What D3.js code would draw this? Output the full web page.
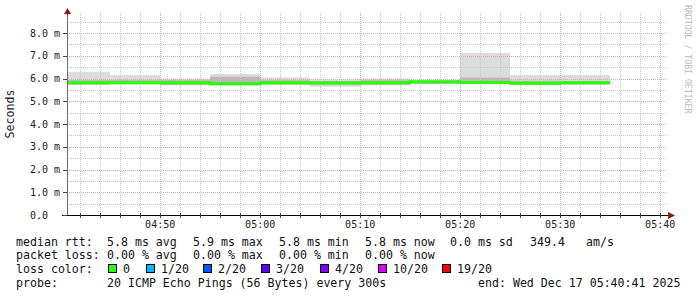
<!DOCTYPE html>
<html>
<head>
<meta charset="utf-8">
<script src="https://cdn.jsdelivr.net/npm/d3@7"></script>
<style>
  body { margin: 0; background: #fff; }
  text { font-family: "DejaVu Sans Mono", monospace; }
</style>
</head>
<body>
<div id="vis-holder"></div>
<script>
// chart size and plot box
const width = 697;
const height = 297;
const plot = { left: 67, right: 667, top: 13, bottom: 215 };

// time window of the graph
const startTime = new Date(Date.UTC(2025, 11, 17, 4, 40, 41));
const endTime = new Date(Date.UTC(2025, 11, 17, 5, 40, 41));

// end of each 300s step
const stepEnds = ["04:45", "04:50", "04:55", "05:00", "05:05", "05:10", "05:15", "05:20", "05:25", "05:30", "05:35"];

// rtt values per step, in ms
const smokeMax = [6.29, 6.15, 6.00, 6.20, 6.05, 5.96, 6.01, 5.93, 7.12, 6.15, 6.15];
const smokeHi  = [5.93, 5.93, 5.93, 6.08, 5.93, 5.89, 5.93, 5.90, 6.04, 5.90, 5.89];
const medians  = [5.815, 5.815, 5.81, 5.77, 5.815, 5.80, 5.815, 5.86, 5.83, 5.79, 5.815];
const smokeLo  = [5.74, 5.76, 5.72, 5.72, 5.74, 5.72, 5.73, 5.77, 5.76, 5.73, 5.75];
const smokeMin = [5.71, 5.74, 5.70, 5.70, 5.71, 5.64, 5.70, 5.76, 5.74, 5.71, 5.72];
const lossPerStep = [0, 0, 0, 0, 0, 0, 0, 0, 0, 0, 0];

// y axis ticks
const yMajor = [1, 2, 3, 4, 5, 6, 7, 8];
const yLabels = [0, 1, 2, 3, 4, 5, 6, 7, 8];

// legend rows
const rttLegend = ["5.8 ms avg", "5.9 ms max", "5.8 ms min", "5.8 ms now", "0.0 ms sd", "349.4", "am/s"];
const rttLegendX = [107, 193, 279, 365, 450, 530, 586];
const lossLegend = ["0.00 % avg", "0.00 % max", "0.00 % min", "0.00 % now"];
const lossNames = ["0", "1/20", "2/20", "3/20", "4/20", "10/20", "19/20"];
const lossColors = ["#26ff00", "#00b8ff", "#0059ff", "#5e00ff", "#7e00ff", "#dd00ff", "#ff0000"];
const lossBoxX = [108, 146, 203, 261, 320, 378, 442];
const probeText = "20 ICMP Echo Pings (56 Bytes) every 300s";
const endText = "end: Wed Dec 17 05:40:41 2025";

const steps = stepEnds.map((s, i) => {
  const [h, m] = s.split(":").map(Number);
  const end = new Date(Date.UTC(2025, 11, 17, h, m, 0));
  const start = i === 0 ? startTime : new Date(end.getTime() - 300000);
  return { start, end, max: smokeMax[i], hi: smokeHi[i], med: medians[i], lo: smokeLo[i], min: smokeMin[i], loss: lossPerStep[i] };
});

const svg = d3.select("#vis-holder")
              .append("svg")
              .attr("width", width)
              .attr("height", height);

// scales
const x = d3.scaleTime()
            .domain([startTime, endTime])
            .range([plot.left, plot.right]);

const y = d3.scaleLinear()
            .domain([0, 8.88])
            .range([plot.bottom, plot.top]);

// smoke: outer band then inner band
svg.append("g")
   .selectAll("rect")
   .data(steps)
   .enter()
   .append("rect")
     .attr("x", (d) => x(d.start))
     .attr("width", (d) => x(d.end) - x(d.start))
     .attr("y", (d) => y(d.max))
     .attr("height", (d) => y(d.min) - y(d.max))
     .style("fill", "#dcdcdc");

svg.append("g")
   .selectAll("rect")
   .data(steps)
   .enter()
   .append("rect")
     .attr("x", (d) => x(d.start))
     .attr("width", (d) => x(d.end) - x(d.start))
     .attr("y", (d) => y(d.hi))
     .attr("height", (d) => y(d.lo) - y(d.hi))
     .style("fill", "#b9b9b9");

// grid lines
const minorTimes = d3.utcMinute.every(2).range(startTime, endTime);
const majorTimes = d3.utcMinute.every(10).range(startTime, endTime);
const yMinor = d3.range(1, 18).map((i) => i * 0.5);

const grid = svg.append("g").attr("shape-rendering", "crispEdges");

grid.selectAll(".vminor")
    .data(minorTimes)
    .enter()
    .append("line")
      .attr("x1", (d) => Math.round(x(d)) + 0.5)
      .attr("x2", (d) => Math.round(x(d)) + 0.5)
      .attr("y1", plot.top)
      .attr("y2", plot.bottom)
      .style("stroke", "#c8c8c8")
      .style("stroke-dasharray", "1,1");

grid.selectAll(".hminor")
    .data(yMinor)
    .enter()
    .append("line")
      .attr("x1", plot.left)
      .attr("x2", plot.right)
      .attr("y1", (d) => Math.round(y(d)) + 0.5)
      .attr("y2", (d) => Math.round(y(d)) + 0.5)
      .style("stroke", "#c8c8c8")
      .style("stroke-dasharray", "1,1");

grid.selectAll(".vmajor")
    .data(majorTimes)
    .enter()
    .append("line")
      .attr("x1", (d) => Math.round(x(d)) + 0.5)
      .attr("x2", (d) => Math.round(x(d)) + 0.5)
      .attr("y1", plot.top)
      .attr("y2", plot.bottom)
      .style("stroke", "#e6a6a6")
      .style("stroke-dasharray", "1,1");

grid.selectAll(".hmajor")
    .data(yMajor)
    .enter()
    .append("line")
      .attr("x1", plot.left)
      .attr("x2", plot.right)
      .attr("y1", (d) => Math.round(y(d)) + 0.5)
      .attr("y2", (d) => Math.round(y(d)) + 0.5)
      .style("stroke", "#e6a6a6")
      .style("stroke-dasharray", "1,1");

// median line, coloured by loss
const medPoints = steps.map((d) => [d.start, d.med, d.loss]);
medPoints.push([steps[steps.length - 1].end, steps[steps.length - 1].med, 0]);

svg.append("path")
   .datum(medPoints)
   .attr("d", d3.line().x((d) => x(d[0])).y((d) => y(d[1])).curve(d3.curveStepAfter))
   .style("fill", "none")
   .style("stroke", lossColors[0])
   .style("stroke-width", 3);

// axes
const axes = svg.append("g").attr("shape-rendering", "crispEdges");

axes.append("line")
    .attr("x1", plot.left + 0.5).attr("x2", plot.left + 0.5)
    .attr("y1", plot.bottom).attr("y2", 12)
    .style("stroke", "#6a6a6a");

axes.append("line")
    .attr("x1", 62).attr("x2", 670)
    .attr("y1", plot.bottom + 0.5).attr("y2", plot.bottom + 0.5)
    .style("stroke", "#000");

// tick marks
axes.selectAll(".xtick")
    .data(minorTimes)
    .enter()
    .append("line")
      .attr("x1", (d) => Math.round(x(d)) + 0.5)
      .attr("x2", (d) => Math.round(x(d)) + 0.5)
      .attr("y1", plot.bottom - 2)
      .attr("y2", plot.bottom + 3)
      .style("stroke", "#444");

axes.selectAll(".ytick")
    .data(yLabels)
    .enter()
    .append("line")
      .attr("x1", 63)
      .attr("x2", plot.left)
      .attr("y1", (d) => Math.round(y(d)) + 0.5)
      .attr("y2", (d) => Math.round(y(d)) + 0.5)
      .style("stroke", "#444");

// arrows
svg.append("path")
   .attr("d", `M${plot.left - 3},${14} L${plot.left + 0.5},${8} L${plot.left + 4},${14} Z`)
   .style("fill", "#8b1a1a");

svg.append("path")
   .attr("d", `M${668},${plot.bottom - 3} L${675},${plot.bottom + 0.5} L${668},${plot.bottom + 4} Z`)
   .style("fill", "#8b1a1a");

// tick labels
svg.selectAll(".ylab")
   .data(yLabels)
   .enter()
   .append("text")
     .attr("x", (d) => d === 0 ? 48 : 60)
     .attr("y", (d) => y(d) + 3.5)
     .attr("text-anchor", "end")
     .attr("font-size", "10px")
     .attr("fill", "#222")
     .text((d) => d === 0 ? "0.0" : d.toFixed(1) + " m");

svg.selectAll(".xlab")
   .data(majorTimes)
   .enter()
   .append("text")
     .attr("x", (d) => x(d))
     .attr("y", 228)
     .attr("text-anchor", "middle")
     .attr("font-size", "10px")
     .attr("fill", "#222")
     .text(d3.utcFormat("%H:%M"));

// unit label
svg.append("text")
   .attr("transform", "translate(14,114) rotate(-90)")
   .attr("text-anchor", "middle")
   .attr("font-size", "11.6px")
   .attr("fill", "#222")
   .text("Seconds");

// watermark
svg.append("text")
   .attr("transform", "translate(685,5) rotate(90)")
   .attr("font-size", "8.2px")
   .attr("fill", "#bbb")
   .text("RRDTOOL / TOBI OETIKER");

// legend
const legend = svg.append("g")
                  .attr("font-size", "11.6px")
                  .attr("fill", "#111");

legend.append("text").attr("x", 16).attr("y", 245.5).text("median rtt:");
legend.selectAll(".rtt")
      .data(rttLegend)
      .enter()
      .append("text")
        .attr("x", (d, i) => rttLegendX[i])
        .attr("y", 245.5)
        .text((d) => d);

legend.append("text").attr("x", 16).attr("y", 259).text("packet loss:");
legend.selectAll(".loss")
      .data(lossLegend)
      .enter()
      .append("text")
        .attr("x", (d, i) => rttLegendX[i])
        .attr("y", 259)
        .text((d) => d);

legend.append("text").attr("x", 16).attr("y", 273).text("loss color:");
legend.selectAll(".lbox")
      .data(lossNames)
      .enter()
      .append("rect")
        .attr("x", (d, i) => lossBoxX[i] + 0.5)
        .attr("y", 264.5)
        .attr("width", 8)
        .attr("height", 8)
        .style("fill", (d, i) => lossColors[i])
        .style("stroke", "#000");
legend.selectAll(".lname")
      .data(lossNames)
      .enter()
      .append("text")
        .attr("x", (d, i) => lossBoxX[i] + 15)
        .attr("y", 273)
        .text((d) => d);

legend.append("text").attr("x", 16).attr("y", 286.5).text("probe:");
legend.append("text").attr("x", 107).attr("y", 286.5).text(probeText);
legend.append("text").attr("x", 478).attr("y", 286.5).text(endText);
</script>
</body>
</html>
